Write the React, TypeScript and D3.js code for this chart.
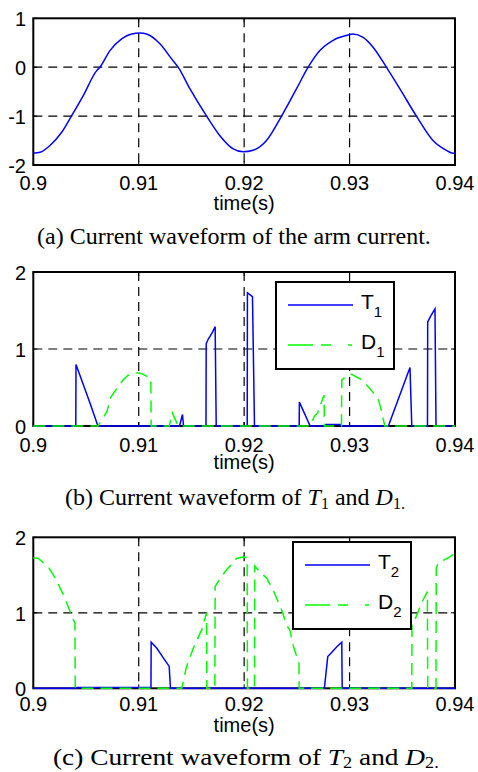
import React from "react";
import * as d3 from "d3";

const width = 478;
const height = 772;

// shared time axis (s)
const timeTicks = [0.9, 0.91, 0.92, 0.93, 0.94];
const timeTickLabels = ["0.9", "0.91", "0.92", "0.93", "0.94"];

// (a) arm current
const armTime = [
  0.9, 0.90064, 0.90158, 0.90269, 0.90364, 0.90474, 0.90601, 0.90632, 0.90727,
  0.90838, 0.90933, 0.91012, 0.91075, 0.91201, 0.91312, 0.91374, 0.91485,
  0.91644, 0.9177, 0.91896, 0.91991, 0.92085, 0.92212, 0.92355, 0.92497,
  0.92607, 0.92718, 0.92844, 0.92971, 0.93033, 0.93128, 0.93223, 0.93349,
  0.93476, 0.93634, 0.93791, 0.93918, 0.93981, 0.94,
];
const armCurrent = [
  -1.76, -1.74, -1.6, -1.33, -0.99, -0.58, -0.07, 0, 0.34, 0.58, 0.68, 0.7,
  0.68, 0.48, 0.17, 0, -0.44, -1.0, -1.4, -1.67, -1.73, -1.7, -1.5, -1.0,
  -0.44, 0, 0.34, 0.55, 0.65, 0.68, 0.61, 0.41, 0, -0.44, -1.0, -1.5, -1.7,
  -1.76, -1.76,
];

// (b) T1 and D1
const t1Time = [
  0.9, 0.90403, 0.90405, 0.9054, 0.90613, 0.91387, 0.91415, 0.91425, 0.91638,
  0.9164, 0.9166, 0.917, 0.91725, 0.91735, 0.92029, 0.92031, 0.92079, 0.92098,
  0.92522, 0.92524, 0.92626, 0.92774, 0.92776, 0.92917, 0.92919, 0.93368,
  0.93573, 0.9359, 0.93739, 0.93741, 0.9377, 0.9381, 0.9382, 0.94,
];
const t1Current = [
  0, 0, 0.8, 0.29, 0, 0, 0.15, 0, 0, 1.07, 1.13, 1.22, 1.29, 0, 0, 1.73, 1.68,
  0, 0, 0.31, 0, 0, 0.02, 0.02, 0, 0, 0.76, 0, 0, 1.35, 1.43, 1.52, 0, 0,
];
const d1Time = [
  0.9, 0.90613, 0.90696, 0.90737, 0.90768, 0.90853, 0.909, 0.90995, 0.91027,
  0.91115, 0.91118, 0.91289, 0.91302, 0.91319, 0.91374, 0.92626, 0.92664,
  0.92696, 0.92758, 0.92761, 0.92923, 0.92926, 0.92986, 0.93018, 0.93128,
  0.9327, 0.93302, 0.93318, 0.93334, 0.94,
];
const d1Current = [
  0, 0, 0.18, 0.38, 0.44, 0.6, 0.66, 0.69, 0.68, 0.62, 0, 0, 0.07, 0.17, 0, 0,
  0.12, 0.17, 0.4, 0, 0, 0.6, 0.66, 0.67, 0.59, 0.36, 0.2, 0.1, 0, 0,
];

// (c) T2 and D2
const t2Time = [
  0.9, 0.90414, 0.90416, 0.91116, 0.91118, 0.91172, 0.91235, 0.91289, 0.91301,
  0.92761, 0.92793, 0.92834, 0.92879, 0.92926, 0.9293, 0.94,
];
const t2Current = [
  0, 0, 0.01, 0.01, 0.61, 0.53, 0.4, 0.29, 0, 0, 0.42, 0.48, 0.55, 0.61, 0, 0,
];
const d2Time = [
  0.9, 0.90047, 0.90142, 0.90221, 0.903, 0.90379, 0.90395, 0.90398, 0.91407,
  0.91454, 0.91517, 0.91596, 0.91644, 0.91646, 0.91722, 0.91725, 0.91786,
  0.91833, 0.91928, 0.91991, 0.92028, 0.92031, 0.92098, 0.921, 0.92165,
  0.92212, 0.92275, 0.92355, 0.92402, 0.92433, 0.92464, 0.9252, 0.92522,
  0.9359, 0.93592, 0.93618, 0.93682, 0.93738, 0.93741, 0.9382, 0.93822,
  0.93839, 0.9395, 0.93981, 0.94,
];
const d2Current = [
  1.73, 1.72, 1.61, 1.43, 1.19, 0.91, 0.87, 0, 0, 0.29, 0.53, 0.77, 1.0, 0, 0,
  1.35, 1.48, 1.57, 1.72, 1.74, 1.73, 0, 0, 1.62, 1.52, 1.46, 1.3, 1.04, 0.84,
  0.77, 0.57, 0.33, 0, 0, 0.85, 0.9, 1.13, 1.28, 0, 0, 1.58, 1.66, 1.74, 1.77,
  1.76,
];

const yTicksA = [-2, -1, 0, 1];
const yTicksB = [0, 1, 2];

const BLUE = "#0000ff";
const GREEN = "#00ff00";
const SANS = "'Liberation Sans', Arial, sans-serif";
const SERIF = "'Liberation Serif', 'Times New Roman', serif";

const x = d3.scaleLinear().domain([0.9, 0.94]).range([33.3, 455]);

const zip = (ts, vs) => ts.map((t, i) => [t, vs[i]]);

function Panel({ top, bottom, domain, yTicks, series, legend, tickY, labelY }) {
  const y = d3.scaleLinear().domain(domain).range([bottom, top]);
  const [x0, x1] = x.range();

  return (
    <g>
      {/* grid */}
      {timeTicks.slice(1, -1).map((t) => (
        <line key={"gx" + t} x1={x(t)} x2={x(t)} y1={top} y2={bottom}
          stroke="#000" strokeWidth={1.2} strokeDasharray="9,6" />
      ))}
      {yTicks.slice(1, -1).map((v) => (
        <line key={"gy" + v} x1={x0} x2={x1} y1={y(v)} y2={y(v)}
          stroke="#000" strokeWidth={1.2} strokeDasharray="9,6" />
      ))}

      {/* inside ticks and box */}
      {timeTicks.map((t) => (
        <g key={"tx" + t}>
          <line x1={x(t)} x2={x(t)} y1={bottom} y2={bottom - 4} stroke="#000" />
          <line x1={x(t)} x2={x(t)} y1={top} y2={top + 4} stroke="#000" />
        </g>
      ))}
      {yTicks.map((v) => (
        <g key={"ty" + v}>
          <line x1={x0} x2={x0 + 4} y1={y(v)} y2={y(v)} stroke="#000" />
          <line x1={x1} x2={x1 - 4} y1={y(v)} y2={y(v)} stroke="#000" />
        </g>
      ))}
      <rect x={x0} y={top} width={x1 - x0} height={bottom - top}
        fill="none" stroke="#000" strokeWidth={2} />

      {series.map((s, i) => {
        const line = d3
          .line()
          .x((d) => x(d[0]))
          .y((d) => y(d[1]))
          .curve(s.smooth ? d3.curveMonotoneX : d3.curveLinear);
        return (
          <path key={i} d={line(zip(s.time, s.value))} fill="none"
            stroke={s.color} strokeWidth={1.5} strokeDasharray={s.dash} />
        );
      })}

      {/* tick labels */}
      {timeTicks.map((t, i) => (
        <text key={"lx" + t} x={x(t)} y={tickY} textAnchor="middle"
          fontFamily={SANS} fontSize={20}>{timeTickLabels[i]}</text>
      ))}
      {yTicks.map((v) => (
        <text key={"ly" + v} x={26} y={y(v) + 8} textAnchor="end"
          fontFamily={SANS} fontSize={20}>{v}</text>
      ))}
      <text x={(x0 + x1) / 2} y={labelY} textAnchor="middle"
        fontFamily={SANS} fontSize={20}>time(s)</text>

      {legend && (
        <g transform={`translate(${legend.x},${legend.y})`}>
          <rect x={0} y={0} width={118} height={87} fill="#fff"
            stroke="#000" strokeWidth={2} />
          {legend.items.map((it, i) => (
            <g key={i} transform={`translate(0,${23 + i * 40})`}>
              <line x1={12} x2={77} y1={0} y2={0} stroke={it.color}
                strokeWidth={1.5} strokeDasharray={it.dash} />
              <text x={85} y={4} fontFamily={SANS} fontSize={21}>
                {it.name}
                <tspan fontSize={15} dy={8}>{it.sub}</tspan>
              </text>
            </g>
          ))}
        </g>
      )}
    </g>
  );
}

function Caption({ x0, y0, sx, children }) {
  return (
    <text transform={`translate(${x0},${y0}) scale(${sx},1)`}
      fontFamily={SERIF} fontSize={24}>{children}</text>
  );
}

export default function App() {
  const legendDash = "25,8,10,17,4";
  return (
    <svg width={width} height={height}
      style={{ position: "absolute", left: 0, top: 0, background: "#fff" }}>
      <Panel top={18.3} bottom={165} domain={[-2, 1]} yTicks={yTicksA}
        tickY={189.5} labelY={209.5}
        series={[{ time: armTime, value: armCurrent, color: BLUE, smooth: true }]} />
      <Caption x0={37} y0={244} sx={1}>(a) Current waveform of the arm current.</Caption>

      <Panel top={272} bottom={426} domain={[0, 2]} yTicks={yTicksB}
        tickY={451.5} labelY={469}
        series={[
          { time: t1Time, value: t1Current, color: BLUE },
          { time: d1Time, value: d1Current, color: GREEN, dash: "12,7" },
        ]}
        legend={{ x: 276, y: 282, items: [
          { name: "T", sub: "1", color: BLUE },
          { name: "D", sub: "1", color: GREEN, dash: legendDash },
        ] }} />
      <Caption x0={65} y0={505} sx={1}>
        (b) Current waveform of <tspan fontStyle="italic">T</tspan>
        <tspan fontSize={16} dy={4}>1</tspan>
        <tspan dy={-4}> and </tspan>
        <tspan fontStyle="italic">D</tspan>
        <tspan fontSize={16} dy={4}>1.</tspan>
      </Caption>

      <Panel top={537.3} bottom={688.3} domain={[0, 2]} yTicks={yTicksB}
        tickY={711} labelY={732}
        series={[
          { time: t2Time, value: t2Current, color: BLUE },
          { time: d2Time, value: d2Current, color: GREEN, dash: "12,7" },
        ]}
        legend={{ x: 293, y: 542, items: [
          { name: "T", sub: "2", color: BLUE },
          { name: "D", sub: "2", color: GREEN, dash: legendDash },
        ] }} />
      <Caption x0={53} y0={765} sx={1.14}>
        (c) Current waveform of <tspan fontStyle="italic">T</tspan>
        <tspan fontSize={16} dy={3}>2</tspan>
        <tspan dy={-3}> and </tspan>
        <tspan fontStyle="italic">D</tspan>
        <tspan fontSize={16} dy={3}>2.</tspan>
      </Caption>
    </svg>
  );
}
